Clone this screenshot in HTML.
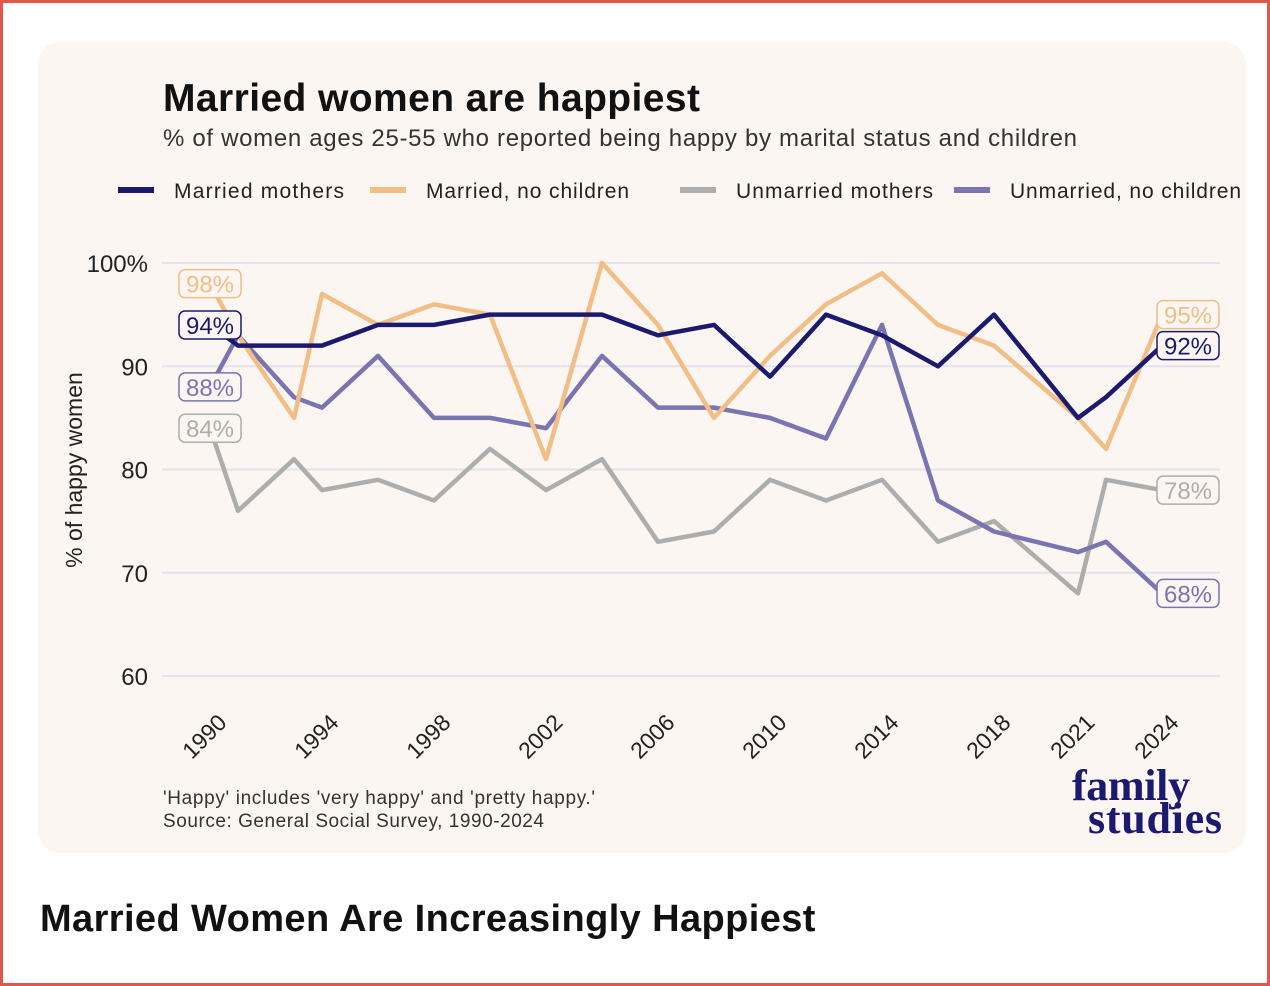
<!DOCTYPE html>
<html><head><meta charset="utf-8"><style>
html,body{margin:0;padding:0;background:#fff;}
body{width:1270px;height:986px;position:relative;overflow:hidden;font-family:"Liberation Sans",sans-serif;}
.frame{position:absolute;left:0;top:0;width:1264px;height:980px;border:3px solid #e2574c;}
.card{position:absolute;left:38px;top:42px;width:1208px;height:811px;background:#fbf6f2;border-radius:22px;}
</style></head><body>
<div class="frame"></div>
<div class="card"></div>
<svg id="chart" width="1270" height="986" style="position:absolute;left:0;top:0" font-family="Liberation Sans, sans-serif"></svg>
<div style="position:absolute;left:40px;top:898px;font-size:38px;font-weight:bold;color:#111;letter-spacing:0.4px;">Married Women Are Increasingly Happiest</div>
<script>
const years=[1990,1991,1993,1994,1996,1998,2000,2002,2004,2006,2008,2010,2012,2014,2016,2018,2021,2022,2024];
const marriedMothers=[94,92,92,92,94,94,95,95,95,93,94,89,95,93,90,95,85,87,92];
const marriedNoKids=[98,93,85,97,94,96,95,81,100,94,85,91,96,99,94,92,85,82,95];
const unmarriedMothers=[84,76,81,78,79,77,82,78,81,73,74,79,77,79,73,75,68,79,78];
const unmarriedNoKids=[88,93,87,86,91,85,85,84,91,86,86,85,83,94,77,74,72,73,68];
const yTicks=[60,70,80,90,100];
const xTickLabels=[1990,1994,1998,2002,2006,2010,2014,2018,2021,2024];
const seriesNames=["Married mothers","Married, no children","Unmarried mothers","Unmarried, no children"];
const colors=["#1c1a6e","#f2be86","#adadad","#7a74b0"];

const NS="http://www.w3.org/2000/svg";
const svg=document.getElementById('chart');
function x(yr){return 210+(yr-1990)*(1162-210)/34;}
function y(v){return 676-(v-60)*(676-263)/40;}
function el(tag,attrs,parent){const e=document.createElementNS(NS,tag);for(const k in attrs)e.setAttribute(k,attrs[k]);(parent||svg).appendChild(e);return e;}
function txt(s,attrs){const t=el('text',attrs);t.textContent=s;return t;}

let t=txt("Married women are happiest",{x:163,y:111,'font-size':39,'font-weight':'bold',fill:'#111',textLength:537});


t=txt("% of women ages 25-55 who reported being happy by marital status and children",{x:163,y:146,'font-size':24,fill:'#333',textLength:914});



const legX=[118,370,680,954];
const legW=[170,203,197,231];
seriesNames.forEach((n,i)=>{
  const g=el('g',{});
  
  
  el('line',{x1:legX[i],x2:legX[i]+36,y1:190,y2:190,stroke:colors[i],'stroke-width':6},g);
  const tt=el('text',{x:legX[i]+56,y:198,'font-size':21,fill:'#222',textLength:legW[i]},g);tt.textContent=n;
});

yTicks.forEach(v=>{
  const l=el('line',{x1:162,x2:1220,y1:y(v),y2:y(v),stroke:'#e4e2ea','stroke-width':2});
  
  
  const tt=txt(v===100?'100%':String(v),{x:148,y:y(v)+9,'font-size':24,fill:'#222','text-anchor':'end'});
  
  
});
t=txt("% of happy women",{x:0,y:0,'font-size':23,fill:'#222','text-anchor':'middle',transform:'translate(82,470) rotate(-90)'});



xTickLabels.forEach(yr=>{
  const px=x(yr)+18,py=724;
  const tt=txt(String(yr),{x:0,y:0,'font-size':23,fill:'#222','text-anchor':'end',transform:`translate(${px},${py}) rotate(-45)`});
  
  
});

const all=[marriedMothers,marriedNoKids,unmarriedMothers,unmarriedNoKids];
const order=[2,3,1,0];
order.forEach(i=>{
  const d=years.map((yr,j)=>(j?'L':'M')+x(yr).toFixed(1)+','+y(all[i][j]).toFixed(1)).join(' ');
  const p=el('path',{d:d,fill:'none',stroke:colors[i],'stroke-width':4.5,'stroke-linejoin':'round'});
  
  
});

function badge(v,px,color){
  const g=el('g',{});
  
  
  el('rect',{x:px-31,y:y(v)-14,width:62,height:28,rx:6,fill:'#fbf6f2',stroke:color,'stroke-width':1.5},g);
  const tt=el('text',{x:px,y:y(v)+9,'font-size':24,fill:color,'text-anchor':'middle'},g);tt.textContent=v+'%';
}
all.forEach((s,i)=>{badge(s[0],210,colors[i]);badge(s[s.length-1],1188,colors[i]);});

t=txt("'Happy' includes 'very happy' and 'pretty happy.'",{x:163,y:804,'font-size':19,fill:'#333',textLength:432});


t=txt("Source: General Social Survey, 1990-2024",{x:163,y:827,'font-size':19,fill:'#333',textLength:381});


const lg=el('g',{'font-family':'Liberation Serif, serif','font-weight':'bold',fill:'#1c1a6e','font-size':44});


let a=el('text',{x:1072,y:800,textLength:118},lg);a.textContent='family';
a=el('text',{x:1088,y:833,textLength:134},lg);a.textContent='studies';
</script>
</body></html>
